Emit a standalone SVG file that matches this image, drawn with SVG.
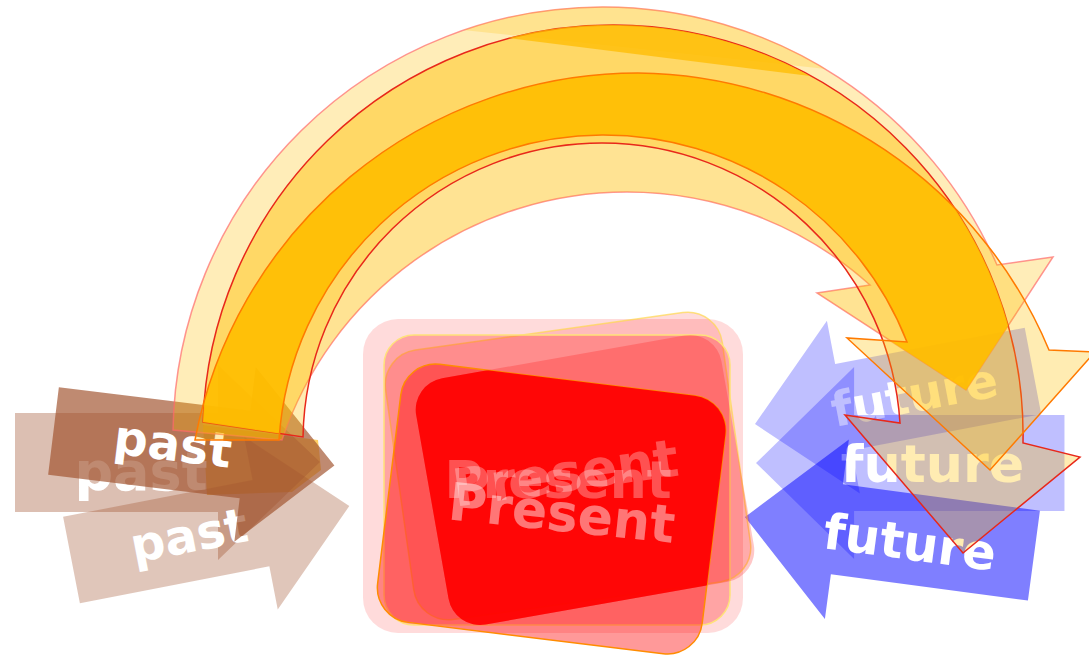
<svg xmlns="http://www.w3.org/2000/svg" width="1089" height="661" viewBox="0 0 1089 661">
<style>
.lbl{font-family:"DejaVu Sans","Liberation Sans",sans-serif;font-weight:bold;fill:#ffffff;text-anchor:middle}
.past{fill:#a0522d}
.fut{fill:#0000ff}
.pr{fill:#ff0000}
.arc{fill:#ffc000;stroke-width:1.5;stroke-linejoin:miter}
</style>
<defs>
<polygon id="rarrow" points="0,-44 193,-44 193,-88 283,0 193,88 193,44 0,44"/>
<polygon id="larrow" points="0,0 90,-88 90,-44 283,-44 283,44 90,44 90,88"/>
<path id="archP" d="M173,430 A430,430 0 0 1 603,7 A430,430 0 0 1 997,265 L1053,257 L966,390 L817,293 L870,285 A364,364 0 0 0 627,192 A364,364 0 0 0 282,440 Z"/>
<path id="archR" d="M203,422 A410,410 0 0 1 613,25 A410,410 0 0 1 1023,443 L1080,457 L963,553 L845,415 L900,423 A299,299 0 0 0 602,143 A299,299 0 0 0 303,437 Z"/>
<path id="archK" d="M195,440 A451,451 0 0 1 638,73 A451,451 0 0 1 1049,350 L1095,352 L990,470 L847,338 L907,342 A326,326 0 0 0 602,135 A326,326 0 0 0 279,440 Z"/>
<rect id="rectD" x="-163.5" y="-130" width="327" height="260" rx="35" transform="translate(551.5,509) rotate(7)"/>
<rect id="rectE" x="-155" y="-125" width="310" height="250" rx="32" transform="translate(585,480) rotate(-10)"/>
<clipPath id="clipP"><use href="#archP"/></clipPath>
<clipPath id="clipR"><use href="#archR"/></clipPath>
<clipPath id="clipRc"><circle cx="613" cy="435" r="410"/></clipPath>
<clipPath id="clipE"><use href="#rectE"/></clipPath>
</defs>
<rect x="0" y="0" width="1089" height="661" fill="#ffffff"/>

<g id="future-1" transform="translate(755,424) rotate(-10.8)">
<use href="#larrow" class="fut" fill-opacity="0.25"/>
<text class="lbl" x="162" y="18" font-size="48">future</text>
</g>
<g id="future-2" transform="translate(756,463) scale(1.09)">
<use href="#larrow" class="fut" fill-opacity="0.25"/>
<text class="lbl" x="162" y="17" font-size="48">future</text>
</g>
<g id="future-3" transform="translate(745,517) rotate(7.6) scale(1.03)">
<use href="#larrow" class="fut" fill-opacity="0.5"/>
<text class="lbl" x="162" y="20" font-size="48">future</text>
</g>

<g id="arch-tail">
<path fill="#ffb000" fill-opacity="0.6" d="M203,425 L318,440 L321,470 L292,492 L207,495 Z"/>
</g>

<g id="past-2">
<polygon class="past" fill-opacity="0.37" points="15,413 218,413 218,365 320,462 218,560 218,512 15,512"/>
<text class="lbl" x="141" y="490" font-size="54">past</text>
</g>
<g id="past-3" transform="translate(71.5,560) rotate(-11)">
<use href="#rarrow" class="past" fill-opacity="0.33"/>
<text class="lbl" x="120" y="15" font-size="48">past</text>
</g>
<g id="past-1" transform="translate(53.5,431) rotate(7)">
<use href="#rarrow" class="past" fill-opacity="0.68"/>
<text class="lbl" x="120" y="15" font-size="48">past</text>
</g>

<g id="present">
<rect class="pr" fill-opacity="0.14" x="363" y="319" width="380" height="314" rx="35"/>
<rect class="pr" fill-opacity="0.14" x="-170" y="-136" width="340" height="272" rx="35" transform="translate(568,466) rotate(-8)" stroke="#ffd84d" stroke-opacity="0.7" stroke-width="1.5"/>
<rect class="pr" fill-opacity="0.25" x="384" y="335" width="346" height="290" rx="30" stroke="#ffe27a" stroke-width="1.5"/>
<use href="#rectE" class="pr" fill-opacity="0.22"/>
<use href="#rectD" class="pr" fill-opacity="0.4" stroke="#ff8c00" stroke-width="1.5"/>
<g clip-path="url(#clipE)"><use href="#rectD" class="pr" fill-opacity="0.9"/></g>
<text class="lbl" x="558" y="498" font-size="52" fill-opacity="0.3">Present</text>
<text class="lbl" x="0" y="0" font-size="52" fill-opacity="0.3" transform="translate(568,491) rotate(-8)">Present</text>
<text class="lbl" x="0" y="0" font-size="52" fill-opacity="0.45" transform="translate(560,531) rotate(6)">Present</text>
</g>

<g id="connectors">
<use href="#archP" class="arc" fill-opacity="0.28" stroke="#ff6a6a" stroke-opacity="0.7"/>
<g clip-path="url(#clipRc)"><use href="#archP" fill="#ffc000" fill-opacity="0.2"/></g>
<path fill="#ffc000" fill-opacity="0.22" d="M463,30 A430,430 0 0 1 826,69 Z"/>
<use href="#archR" class="arc" fill-opacity="0.3" stroke="#e8281a"/>
<g clip-path="url(#clipP)"><use href="#archK" clip-path="url(#clipR)" fill="#ffbc00" fill-opacity="0.88"/></g>
<path fill="#ffbc00" fill-opacity="0.75" d="M508,38 A410,410 0 0 1 810,76 Z"/>
<use href="#archK" class="arc" fill-opacity="0.3" stroke="#ff7a00"/>
</g>
</svg>
